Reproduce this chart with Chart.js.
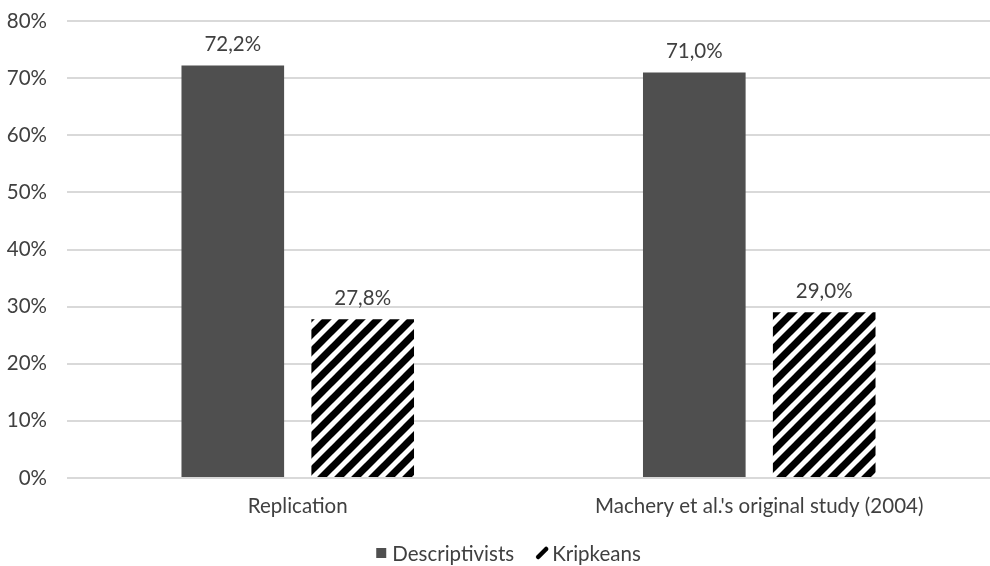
<!DOCTYPE html>
<html>
<head>
<meta charset="utf-8">
<script src="https://cdn.jsdelivr.net/npm/chart.js@4/dist/chart.umd.min.js"></script>
<style>
html,body{margin:0;padding:0;background:#fff;}
#wrap{width:990px;height:566px;}
</style>
</head>
<body>
<div id="wrap"><canvas id="c" width="990" height="566"></canvas></div>
<script>
const categories = ["Replication", "Machery et al.'s original study (2004)"];
const descriptivists = [72.2, 71.0];
const kripkeans = [27.8, 29.0];
const yTicks = [0, 10, 20, 30, 40, 50, 60, 70, 80];
const seriesNames = ["Descriptivists", "Kripkeans"];

function makeHatch(size, lw) {
  const c = document.createElement('canvas');
  c.width = size; c.height = size;
  const g = c.getContext('2d');
  g.fillStyle = '#ffffff';
  g.fillRect(0, 0, size, size);
  g.strokeStyle = '#000000';
  g.lineWidth = lw;
  g.lineCap = 'square';
  for (const o of [-size, 0, size]) {
    g.beginPath();
    g.moveTo(o - 2, size + 2);
    g.lineTo(o + size + 2, -2);
    g.stroke();
  }
  return g.createPattern(c, 'repeat');
}
const ctx0 = document.getElementById('c').getContext('2d');
const hatch = makeHatch(17, 7);
const FONT = 'Lato';
const FS = 20.5;
const TXT = '#404040';
const DARK = '#4f4f4f';

const fmt = v => v.toFixed(1).replace('.', ',') + '%';

const labelPlugin = {
  id: 'barLabels',
  afterDatasetsDraw(chart) {
    const ctx = chart.ctx;
    ctx.save();
    ctx.font = FS + 'px ' + FONT;
    ctx.fillStyle = TXT;
    ctx.textAlign = 'center';
    ctx.textBaseline = 'middle';
    chart.data.datasets.forEach((ds, i) => {
      const meta = chart.getDatasetMeta(i);
      meta.data.forEach((bar, j) => {
        ctx.fillText(fmt(ds.data[j]), bar.x, bar.y - 21);
      });
    });
    ctx.restore();
  }
};

const legendPlugin = {
  id: 'customLegend',
  afterDraw(chart) {
    const ctx = chart.ctx;
    ctx.save();
    ctx.font = FS + 'px ' + FONT;
    ctx.textBaseline = 'middle';
    ctx.textAlign = 'left';
    const y = chart.height - 13;
    const mark = 11, gap = 5, itemGap = 22;
    const w1 = ctx.measureText(seriesNames[0]).width;
    const w2 = ctx.measureText(seriesNames[1]).width;
    const total = mark + gap + w1 + itemGap + mark + gap + w2;
    let x = (chart.chartArea.left + chart.chartArea.right) / 2 - total / 2 - 20;
    ctx.fillStyle = DARK;
    ctx.fillRect(x, y - 5, 10, 10);
    x += mark + gap;
    ctx.fillStyle = TXT;
    ctx.fillText(seriesNames[0], x, y + 1);
    x += w1 + itemGap;
    ctx.strokeStyle = '#000';
    ctx.lineWidth = 4.5;
    ctx.lineCap = 'round';
    ctx.beginPath();
    ctx.moveTo(x + 2, y + 4);
    ctx.lineTo(x + 10, y - 4);
    ctx.stroke();
    x += mark + gap;
    ctx.fillStyle = TXT;
    ctx.fillText(seriesNames[1], x, y + 1);
    ctx.restore();
  }
};

new Chart(ctx0, {
  type: 'bar',
  data: {
    labels: categories,
    datasets: [
      { label: seriesNames[0], data: descriptivists, backgroundColor: DARK, borderWidth: 0 },
      { label: seriesNames[1], data: kripkeans, backgroundColor: hatch, borderWidth: 0 }
    ]
  },
  options: {
    responsive: false,
    animation: false,
    devicePixelRatio: 1,
    layout: { padding: { top: 21, right: 0, left: 0, bottom: 33 } },
    datasets: { bar: { categoryPercentage: 0.563, barPercentage: 0.79 } },
    plugins: {
      legend: { display: false },
      tooltip: { enabled: false }
    },
    scales: {
      x: {
        grid: { display: false, drawTicks: false },
        border: { display: false },
        ticks: { font: { family: FONT, size: FS }, color: TXT, padding: 16 },
        afterFit(s) { s.height = 55; s.paddingLeft = 0; s.paddingRight = 0; }
      },
      y: {
        min: 0, max: 80,
        afterBuildTicks(s) { s.ticks = yTicks.map(v => ({ value: v })); },
        grid: { color: '#d9d9d9', lineWidth: 2, drawTicks: false },
        border: { display: false },
        ticks: { font: { family: FONT, size: FS }, color: TXT, padding: 20, callback: v => v + '%' },
        afterFit(s) { s.width = 67; s.paddingTop = 0; s.paddingBottom = 0; }
      }
    }
  },
  plugins: [labelPlugin, legendPlugin]
});
</script>
</body>
</html>
